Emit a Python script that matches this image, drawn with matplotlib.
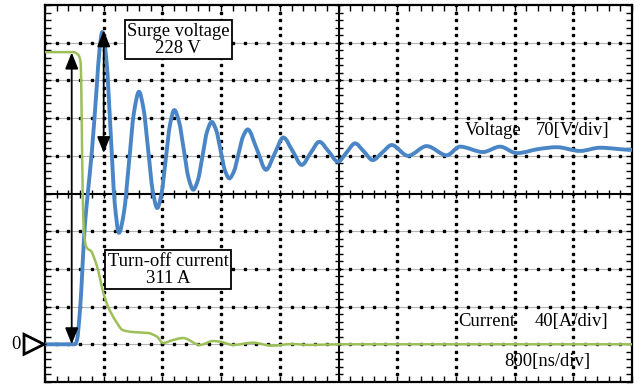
import numpy as np
import matplotlib
matplotlib.use("Agg")
import matplotlib.pyplot as plt
from matplotlib.patches import Polygon, PathPatch
from matplotlib.path import Path

# scope settings
T_DIV = 800.0   # ns/div
V_DIV = 70.0    # V/div
I_DIV = 40.0    # A/div
ZERO = 1.0      # zero level, in divisions from bottom

# voltage trace (ns, V)
time_v = [0, 409, 436, 477, 500, 536, 568, 637, 705, 743, 781,
          838, 895, 951, 1008,
          1076, 1145, 1213, 1281,
          1343, 1406, 1468, 1530,
          1588, 1646, 1704, 1762,
          1827, 1892, 1956, 2021,
          2084, 2147, 2209, 2272,
          2332, 2392, 2452, 2512,
          2575, 2638, 2700, 2763,
          2888, 3012, 3130, 3248, 3374, 3499, 3619, 3739, 3866, 3993,
          4109, 4225, 4346, 4466, 4596, 4725, 4947, 5202, 5475, 5656,
          5969, 6201, 6429, 6746, 6974, 7291, 7564, 8000]
volt = [0, 0, 8, 64, 114, 207, 259, 355, 478, 547, 580,
        526, 393, 261, 207,
        245, 338, 431, 469,
        437, 361, 285, 253,
        280, 344, 408, 435,
        413, 361, 309, 287,
        305, 350, 395, 413,
        398, 361, 323, 308,
        321, 354, 386, 399,
        362, 324, 354, 384, 359, 333, 355, 376, 358, 339,
        356, 373, 358, 342, 356, 370, 350, 368, 351, 367,
        357, 367, 355, 363, 366, 359, 365, 361]

# current trace (ns, A)
time_i = [0, 386, 454, 487, 500, 514, 532, 559, 586, 627, 668, 722, 790,
          859, 954, 1063, 1199, 1404, 1527, 1608, 1744, 1881, 2113, 2290,
          2385, 2563, 2835, 3094, 3367, 3612, 4007, 8000]
curr = [310, 310, 307, 298, 238, 160, 118, 104, 101, 99, 92, 79, 56,
        40, 26, 15, 13, 12, 8, 1.4, 4.5, 6.7, -0.7, 3.5,
        2.8, -0.7, 1.7, -1.5, 0.3, -0.7, 0, 0]

SURGE_V = 228
TURNOFF_I = 311

blue = "#4a86c6"
green = "#9cbf57"
serif = "Liberation Serif"
FS = 13.4


def smooth_path(x, y):
    # monotone cubic bezier through the read points (no overshoot)
    x = np.asarray(x, float)
    y = np.asarray(y, float)
    h = np.diff(x)
    d = np.diff(y) / h
    m = np.zeros_like(y)
    for k in range(1, len(y) - 1):
        if d[k - 1] * d[k] > 0:
            w1 = 2 * h[k] + h[k - 1]
            w2 = h[k] + 2 * h[k - 1]
            m[k] = (w1 + w2) / (w1 / d[k - 1] + w2 / d[k])
    verts = [(x[0], y[0])]
    codes = [Path.MOVETO]
    for k in range(len(h)):
        verts += [(x[k] + h[k] / 3, y[k] + m[k] * h[k] / 3),
                  (x[k + 1] - h[k] / 3, y[k + 1] - m[k + 1] * h[k] / 3),
                  (x[k + 1], y[k + 1])]
        codes += [Path.CURVE4] * 3
    return Path(verts, codes)


v_div = np.array(volt) / V_DIV + ZERO
i_div = np.array(curr) / I_DIV + ZERO

fig = plt.figure(figsize=(6.41, 3.85), dpi=100)
ax = fig.add_axes([45 / 641, 3 / 385, 587 / 641, 377 / 385])
ax.set_xlim(0, 10 * T_DIV)
ax.set_ylim(0, 10)

# graticule
sub_x = np.arange(0, 10 * T_DIV + 1, T_DIV / 5)
sub_y = np.arange(0, 10.001, 0.2)
for j in range(1, 10):
    if j == 5:
        continue
    ax.axhline(j, color="#b4b4b4", lw=0.8, zorder=1)
    ax.plot(sub_x, [j] * len(sub_x), ls="none", marker="s", ms=1.5,
            color="k", zorder=1.5)
for i in range(1, 10):
    if i == 5:
        continue
    ax.plot([i * T_DIV] * len(sub_y), sub_y, ls="none", marker="s", ms=1.5,
            color="k", zorder=1.5)

# centre axes with cross ticks
ax.axhline(5, color="k", lw=1.5, zorder=2)
ax.axvline(5 * T_DIV, color="k", lw=1.5, zorder=2)
ax.plot(sub_x, [5] * len(sub_x), ls="none", marker="|", ms=6, mew=1,
        color="k", zorder=2)
ax.plot([5 * T_DIV] * len(sub_y), sub_y, ls="none", marker="_", ms=6, mew=1,
        color="k", zorder=2)

# border ticks
ax.set_xticks(np.arange(0, 10 * T_DIV + 1, T_DIV))
ax.set_yticks(np.arange(0, 11, 1))
ax.set_xticks(sub_x, minor=True)
ax.set_yticks(sub_y, minor=True)
ax.tick_params(which="both", direction="in", top=True, right=True,
               labelbottom=False, labelleft=False, length=4, width=1)
for s in ax.spines.values():
    s.set_linewidth(1.6)

# traces
ax.add_patch(PathPatch(smooth_path(time_v, v_div), fill=False, ec=blue,
                       lw=2.8, joinstyle="round", capstyle="round", zorder=3))
ax.add_patch(PathPatch(smooth_path(time_i, i_div), fill=False, ec=green,
                       lw=1.8, joinstyle="round", capstyle="round", zorder=4))

# arrows
arrow = dict(arrowstyle="<|-|>,head_length=0.55,head_width=0.22",
             color="k", lw=1.3, mutation_scale=18, shrinkA=0, shrinkB=0)
ax.annotate("", xy=(800, 9.33), xytext=(800, 6.07), arrowprops=arrow, zorder=6)
ax.annotate("", xy=(364, 8.74), xytext=(364, ZERO), arrowprops=arrow, zorder=6)

box = dict(boxstyle="square,pad=0.12", fc="white", ec="k", lw=1.3)
ax.text(1813, 9.08, f"Surge voltage\n{SURGE_V} V", ha="center", va="center",
        family=serif, fontsize=FS, linespacing=1.0, bbox=box, zorder=7)
ax.text(1677, 2.98, f"Turn-off current\n{TURNOFF_I} A", ha="center",
        va="center", family=serif, fontsize=FS, linespacing=1.0,
        bbox=box, zorder=7)

# channel labels
ax.text(6488, 6.68, "Voltage", ha="right", va="center", family=serif,
        fontsize=FS, zorder=7)
ax.text(7690, 6.68, f"{V_DIV:.0f}[V/div]", ha="right", va="center",
        family=serif, fontsize=FS, zorder=7)
ax.text(6406, 1.60, "Current", ha="right", va="center", family=serif,
        fontsize=FS, zorder=7)
ax.text(7675, 1.60, f"{I_DIV:.0f}[A/div]", ha="right", va="center",
        family=serif, fontsize=FS, zorder=7)
ax.text(7430, 0.54, f"{T_DIV:.0f}[ns/div]", ha="right", va="center",
        family=serif, fontsize=FS, zorder=7)

# zero marker
ax.text(-395, ZERO, "0", ha="center", va="center", family=serif,
        fontsize=FS, clip_on=False)
tri = Polygon([(-286, ZERO + 0.265), (-286, ZERO - 0.265), (-14, ZERO)],
              closed=True, fc="white", ec="k", lw=2, clip_on=False,
              zorder=8)
ax.add_patch(tri)

fig.savefig("out.png", dpi=100)
